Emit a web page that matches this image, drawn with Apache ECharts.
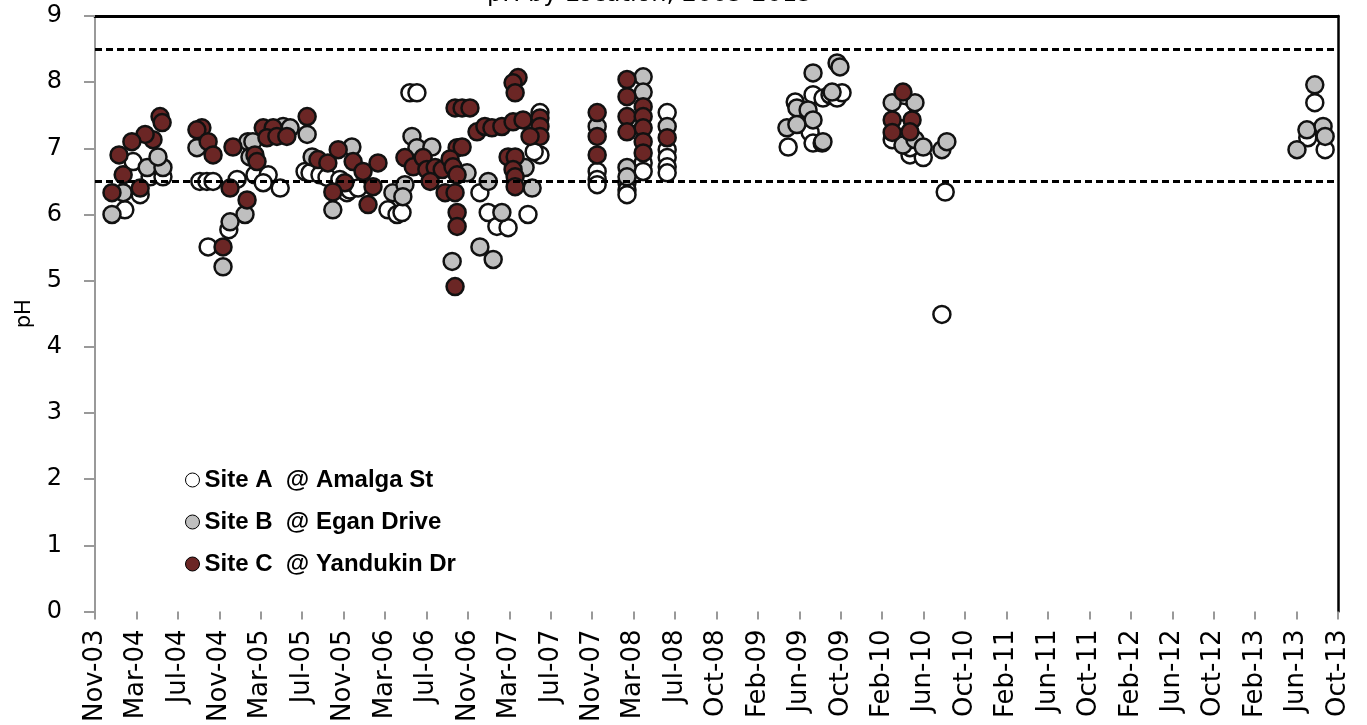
<!DOCTYPE html>
<html>
<head>
<meta charset="utf-8">
<script src="https://cdn.jsdelivr.net/npm/echarts@6/dist/echarts.min.js"></script>
<style>
  html, body { margin: 0; padding: 0; background: #fff; }
  #chart { width: 1367px; height: 725px; }
</style>
</head>
<body>
<div id="chart"></div>
<script>
// tick labels on the date axis (equally spaced, one per major tick)
const tickLabels = [
  'Nov-03', 'Mar-04', 'Jul-04', 'Nov-04', 'Mar-05', 'Jul-05', 'Nov-05', 'Mar-06',
  'Jul-06', 'Nov-06', 'Mar-07', 'Jul-07', 'Nov-07', 'Mar-08', 'Jul-08', 'Oct-08',
  'Feb-09', 'Jun-09', 'Oct-09', 'Feb-10', 'Jun-10', 'Oct-10', 'Feb-11', 'Jun-11',
  'Oct-11', 'Feb-12', 'Jun-12', 'Oct-12', 'Feb-13', 'Jun-13', 'Oct-13'
];

// guideline limits
const phLimits = [8.5, 6.5];

// [position along the date axis in tick units, pH]
const siteA = [
  [0.72, 6.07], [0.92, 6.80], [1.09, 6.30], [1.33, 6.57], [1.64, 6.57], [2.53, 6.50], [2.70, 6.50],
  [2.85, 6.50], [3.43, 6.53], [3.23, 5.77], [2.73, 5.51], [3.86, 6.60], [4.18, 6.60], [4.06, 6.48],
  [4.47, 6.40], [5.07, 6.65], [5.19, 6.63], [5.43, 6.60], [5.60, 6.56], [5.91, 6.53], [6.08, 6.33],
  [6.15, 6.37], [6.35, 6.40], [7.07, 6.07], [7.29, 6.00], [7.60, 7.84], [7.77, 7.84], [7.41, 6.03],
  [9.29, 6.33], [9.49, 6.03], [9.70, 5.82], [9.97, 5.80], [10.45, 6.00], [10.74, 7.54], [10.74, 6.90],
  [10.60, 6.95], [12.12, 6.65], [12.12, 6.53], [12.12, 6.45], [12.84, 6.48], [12.84, 6.37], [12.84, 6.30],
  [13.23, 6.78], [13.23, 6.65], [13.81, 7.54], [13.81, 6.98], [13.81, 6.86], [13.81, 6.72], [13.81, 6.63],
  [17.33, 7.81], [17.57, 7.76], [17.74, 7.81], [17.91, 7.76], [18.03, 7.84], [16.90, 7.70], [17.26, 7.24],
  [17.33, 7.08], [17.55, 7.08], [16.73, 7.02], [19.48, 7.55], [19.24, 7.13], [19.67, 6.90], [19.99, 6.86],
  [19.67, 7.01], [20.52, 6.34], [20.44, 4.49], [29.44, 7.69], [29.27, 7.16], [29.69, 6.98]
];

const siteB = [
  [0.41, 6.00], [0.68, 6.33], [1.26, 6.71], [1.64, 6.71], [1.52, 6.87], [2.46, 7.01], [3.62, 6.00],
  [3.26, 5.89], [3.09, 5.21], [3.69, 7.10], [3.74, 6.87], [3.81, 7.10], [4.54, 7.33], [4.71, 7.31],
  [5.12, 7.21], [5.24, 6.87], [6.20, 7.02], [5.74, 6.07], [7.19, 6.33], [7.65, 7.18], [7.77, 7.01],
  [8.13, 7.02], [7.48, 6.45], [7.43, 6.27], [8.98, 6.63], [8.62, 5.29], [9.49, 6.50], [9.82, 6.03],
  [9.29, 5.51], [9.61, 5.32], [10.38, 6.71], [10.55, 6.40], [12.12, 7.33], [12.84, 6.71], [12.84, 6.57],
  [13.23, 8.08], [13.23, 7.85], [13.81, 7.33], [17.33, 8.14], [17.91, 8.29], [17.98, 8.23], [17.79, 7.85],
  [16.94, 7.61], [17.21, 7.58], [17.33, 7.43], [16.70, 7.31], [16.94, 7.36], [17.57, 7.10], [19.24, 7.69],
  [19.79, 7.69], [19.50, 7.05], [19.79, 7.13], [19.99, 7.02], [20.44, 6.98], [20.56, 7.10], [29.44, 7.96],
  [29.25, 7.28], [29.64, 7.33], [29.69, 7.18], [29.01, 6.98]
];

const siteC = [
  [1.57, 7.48], [1.62, 7.39], [1.40, 7.13], [1.21, 7.21], [0.89, 7.10], [0.58, 6.90], [0.68, 6.60],
  [0.41, 6.33], [1.09, 6.40], [2.58, 7.31], [2.46, 7.28], [2.73, 7.10], [2.85, 6.90], [3.33, 7.02],
  [3.26, 6.40], [3.67, 6.22], [3.09, 5.51], [4.06, 7.31], [4.30, 7.31], [4.15, 7.16], [4.39, 7.18],
  [4.63, 7.18], [3.86, 6.90], [3.91, 6.80], [5.12, 7.48], [5.38, 6.83], [5.62, 6.78], [5.87, 6.98],
  [6.23, 6.80], [6.47, 6.65], [6.83, 6.78], [6.03, 6.48], [5.74, 6.34], [6.59, 6.15], [6.71, 6.42],
  [10.21, 8.07], [10.09, 7.99], [10.14, 7.84], [8.69, 7.61], [8.86, 7.61], [9.05, 7.61], [9.22, 7.25],
  [9.41, 7.33], [9.58, 7.31], [9.82, 7.33], [10.09, 7.40], [10.33, 7.43], [10.74, 7.46], [10.74, 7.33],
  [10.74, 7.18], [10.50, 7.18], [8.74, 7.01], [8.86, 7.02], [7.48, 6.86], [7.68, 6.72], [7.92, 6.86],
  [8.01, 6.68], [8.21, 6.71], [8.38, 6.68], [8.57, 6.84], [8.64, 6.72], [8.74, 6.60], [8.09, 6.50],
  [8.45, 6.33], [8.69, 6.33], [8.74, 6.03], [8.74, 5.82], [8.69, 4.91], [9.97, 6.87], [10.14, 6.87],
  [10.09, 6.68], [10.14, 6.57], [10.14, 6.42], [12.12, 7.54], [12.12, 7.18], [12.12, 6.90], [12.84, 8.04],
  [12.84, 7.78], [12.84, 7.48], [12.84, 7.25], [13.23, 7.63], [13.23, 7.48], [13.23, 7.31], [13.23, 7.10],
  [13.23, 6.93], [13.81, 7.16], [19.50, 7.85], [19.24, 7.43], [19.72, 7.43], [19.24, 7.24], [19.67, 7.25]
];

const siteNames = ['Site A  @ Amalga St', 'Site B  @ Egan Drive', 'Site C  @ Yandukin Dr'];
const siteColors = ['#ffffff', '#bfbfbf', '#6b2625'];

const chart = echarts.init(document.getElementById('chart'));

function siteSeries (name, data, color) {
  return {
    name: name,
    type: 'scatter',
    z: 3,
    data: data,
    symbol: 'circle',
    symbolSize: 17,
    itemStyle: {
      color: color,
      borderColor: '#111',
      borderWidth: 2.5,
      opacity: 1
    }
  };
}

const option = {
  animation: false,
  backgroundColor: '#fff',
  title: {
    text: 'pH by Location, 2003-2013',
    left: 482,
    top: -22,
    textStyle: { fontFamily: 'DejaVu Sans', fontSize: 24, fontWeight: 'normal', color: '#000' }
  },
  legend: {
    orient: 'vertical',
    left: 180,
    top: 463,
    itemGap: 18,
    itemWidth: 14,
    itemHeight: 14,
    icon: 'circle',
    itemStyle: { borderWidth: 1, borderColor: '#000' },
    textStyle: { fontFamily: 'Liberation Sans', fontSize: 24, fontWeight: 'bold', color: '#000' },
    data: siteNames
  },
  grid: { left: 95, right: 29, top: 16, bottom: 113 },
  xAxis: [
    {
      type: 'value',
      min: 0,
      max: tickLabels.length - 1,
      interval: 1,
      axisLine: { show: false },
      axisTick: { show: true, length: 8, lineStyle: { color: '#999', width: 2 } },
      splitLine: { show: false },
      axisLabel: {
        rotate: 90,
        margin: 18,
        fontFamily: 'DejaVu Sans',
        fontSize: 26,
        color: '#000',
        showMinLabel: true,
        showMaxLabel: true,
        formatter: v => tickLabels[Math.round(v)]
      }
    },
    {
      // top frame line
      type: 'value',
      position: 'top',
      min: 0,
      max: tickLabels.length - 1,
      axisLine: { show: true, onZero: false, lineStyle: { color: '#000', width: 3 } },
      axisTick: { show: false },
      axisLabel: { show: false },
      splitLine: { show: false }
    }
  ],
  yAxis: [
    {
      type: 'value',
      min: 0,
      max: 9,
      interval: 1,
      name: 'pH',
      nameLocation: 'middle',
      nameGap: 60,
      nameTextStyle: { fontFamily: 'DejaVu Sans', fontSize: 21, color: '#000' },
      axisLine: { show: true, onZero: false, lineStyle: { color: '#999', width: 2 } },
      axisTick: { show: true, length: 11, lineStyle: { color: '#999', width: 2 } },
      splitLine: { show: false },
      axisLabel: { margin: 33, fontFamily: 'DejaVu Sans', fontSize: 24, color: '#000' }
    },
    {
      // right frame line
      type: 'value',
      position: 'right',
      min: 0,
      max: 9,
      axisLine: { show: true, onZero: false, lineStyle: { color: '#000', width: 2.5 } },
      axisTick: { show: false },
      axisLabel: { show: false },
      splitLine: { show: false }
    }
  ],
  series: [
    {
      name: 'limits',
      type: 'scatter',
      z: 1,
      data: [],
      markLine: {
        silent: true,
        symbol: 'none',
        label: { show: false },
        lineStyle: { color: '#000', width: 3, type: [7, 4] },
        data: phLimits.map(v => ({ yAxis: v }))
      }
    },
    siteSeries(siteNames[0], siteA, siteColors[0]),
    siteSeries(siteNames[1], siteB, siteColors[1]),
    siteSeries(siteNames[2], siteC, siteColors[2])
  ]
};

chart.setOption(option);
</script>
</body>
</html>
